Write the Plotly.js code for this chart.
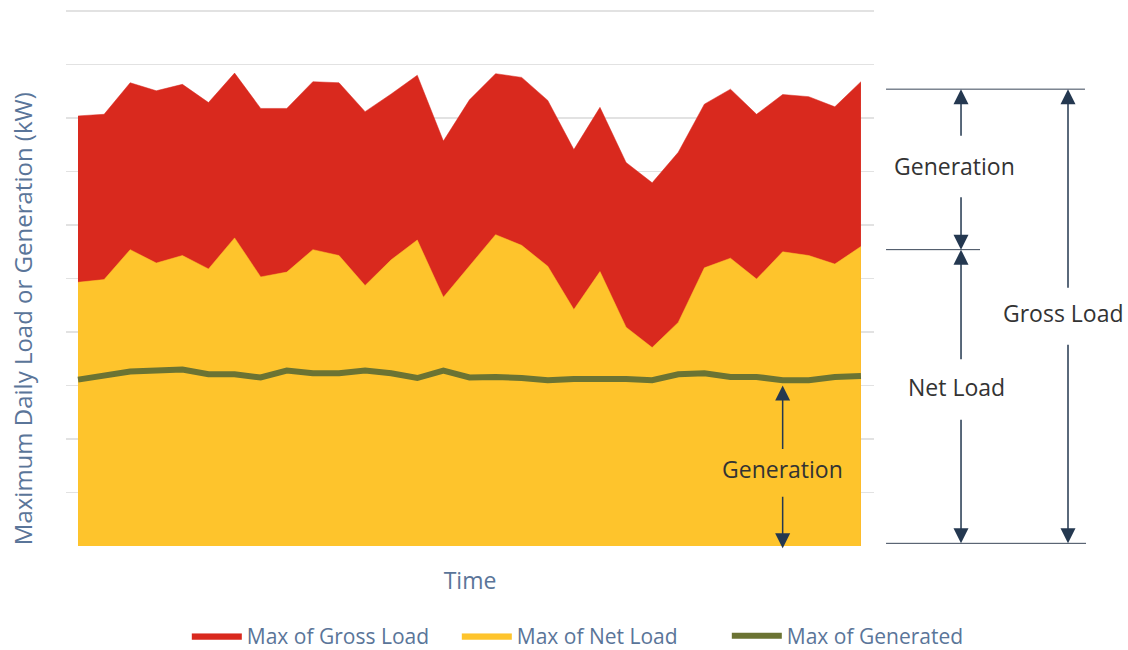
<!DOCTYPE html>
<html>
<head>
<meta charset="utf-8">
<script src="https://cdn.plot.ly/plotly-3.0.1.min.js"></script>
<style>html,body{margin:0;padding:0;background:#fff;}#chart{width:1128px;height:650px;}</style>
</head>
<body>
<div id="chart"></div>
<script>
// Day index (time)
const days = [1,2,3,4,5,6,7,8,9,10,11,12,13,14,15,16,17,18,19,20,21,22,23,24,25,26,27,28,29,30,31];
// Max of Gross Load (kW, relative units)
const grossLoad = [80.4,80.7,86.6,85.1,86.3,82.9,88.4,81.8,81.8,86.8,86.6,81.2,84.5,88.0,75.7,83.4,88.3,87.6,83.3,74.1,82.0,71.7,67.9,73.6,82.6,85.4,80.7,84.4,84.0,82.1,86.8];
// Max of Net Load
const netLoad = [49.3,49.8,55.4,52.9,54.3,51.8,57.6,50.3,51.2,55.4,54.3,48.7,53.5,57.2,46.5,52.4,58.2,56.2,52.3,44.2,51.3,40.9,37.1,41.8,52.0,53.8,49.9,55.0,54.3,52.7,56.0];
// Max of Generated
const generated = [31.1,31.9,32.6,32.8,33.0,32.1,32.1,31.5,32.8,32.3,32.3,32.8,32.3,31.4,32.8,31.5,31.6,31.4,31.0,31.2,31.3,31.2,31.0,32.1,32.3,31.6,31.6,31.0,31.0,31.6,31.8];

const seriesNames = ['Max of Gross Load','Max of Net Load','Max of Generated'];
const yTitle = 'Maximum Daily Load or Generation (kW)';

const RED = '#d9291e', YEL = '#fec42c', OLIVE = '#6b7333';
const NAVY = '#243850', TXT = '#333333', AXC = '#5a7599';

const traces = [
  {x: days, y: grossLoad, name: seriesNames[0], type: 'scatter', mode: 'lines',
   fill: 'tozeroy', fillcolor: RED, line: {color: RED, width: 0.5}, hoverinfo: 'y'},
  {x: days, y: netLoad, name: seriesNames[1], type: 'scatter', mode: 'lines',
   fill: 'tozeroy', fillcolor: YEL, line: {color: YEL, width: 0.5}, hoverinfo: 'y'},
  {x: days, y: generated, name: seriesNames[2], type: 'scatter', mode: 'lines',
   line: {color: OLIVE, width: 6}, hoverinfo: 'y'}
];

// Reference levels used by the explanatory arrows
const grossLevel = 85.4, netLevel = 55.4, zeroLevel = 0.5;
const genDay = 28, genLevel = 30.0;

function arrow(xref, yref, x, y, ay) {
  return {xref: xref, yref: yref, x: x, y: y, ax: 0, ay: ay, axref: 'pixel', ayref: 'pixel',
          text: '', showarrow: true, arrowhead: 2, arrowsize: 2, arrowwidth: 1.5, arrowcolor: NAVY};
}
function label(xref, x, y, t) {
  return {xref: xref, yref: 'y', x: x, y: y, text: t, showarrow: false,
          font: {family: 'Open Sans, sans-serif', size: 23, color: TXT}, xanchor: 'center', yanchor: 'middle'};
}

const annotations = [
  arrow('paper', 'y', 1.1077, grossLevel, 48),
  arrow('paper', 'y', 1.1077, netLevel, -54),
  label('paper', 1.1002, 71.1, 'Generation'),
  arrow('paper', 'y', 1.1077, netLevel, 111),
  arrow('paper', 'y', 1.1077, zeroLevel, -125),
  label('paper', 1.1015, 29.7, 'Net Load'),
  arrow('paper', 'y', 1.2401, grossLevel, 200),
  arrow('paper', 'y', 1.2401, zeroLevel, -200),
  label('paper', 1.2351, 43.5, 'Gross Load'),
  arrow('x', 'y', genDay, genLevel, 65),
  arrow('x', 'paper', genDay, -0.004, -53),
  label('x', genDay, 14.4, 'Generation'),
  {xref: 'paper', yref: 'paper', x: -0.0545, y: 0.425, text: yTitle, textangle: -90, showarrow: false,
   font: {family: 'Open Sans, sans-serif', size: 24, color: AXC}, xanchor: 'center', yanchor: 'middle'}
];

const shapes = [
  {type: 'line', xref: 'paper', yref: 'y', x0: 1.0149, x1: 1.2611, y0: grossLevel, y1: grossLevel, line: {color: '#3a4658', width: 1}},
  {type: 'line', xref: 'paper', yref: 'y', x0: 1.0149, x1: 1.1312, y0: netLevel, y1: netLevel, line: {color: '#3a4658', width: 1}},
  {type: 'line', xref: 'paper', yref: 'y', x0: 1.0149, x1: 1.2624, y0: zeroLevel, y1: zeroLevel, line: {color: '#3a4658', width: 1}}
];

const layout = {
  width: 1128, height: 650,
  margin: {l: 66, r: 254, t: 10, b: 104, autoexpand: false},
  paper_bgcolor: '#ffffff', plot_bgcolor: '#ffffff',
  font: {family: 'Open Sans, sans-serif', color: AXC},
  showlegend: true,
  legend: {orientation: 'h', x: 1.152, xanchor: 'right', y: -0.168, yanchor: 'middle',
           font: {size: 21, color: AXC}, itemwidth: 50, entrywidth: 205, traceorder: 'normal'},
  xaxis: {range: [0.54, 31.5], showgrid: false, zeroline: false, showticklabels: false, ticks: '',
          showline: false, automargin: false,
          title: {text: 'Time', font: {size: 23, color: AXC}, standoff: 26}},
  yaxis: {range: [0, 100.2], dtick: 10, showgrid: true, gridcolor: '#e2e2e2', gridwidth: 1.5,
          zeroline: false, showticklabels: false, ticks: '', showline: false, automargin: false},
  annotations: annotations,
  shapes: shapes
};

Plotly.newPlot('chart', traces, layout, {displayModeBar: false, staticPlot: true});
</script>
</body>
</html>
